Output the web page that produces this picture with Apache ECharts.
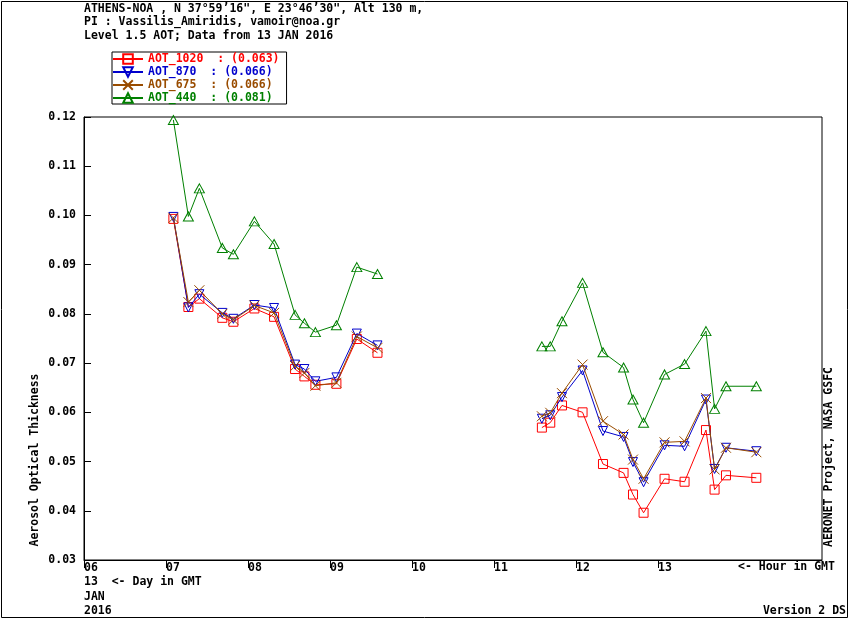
<!DOCTYPE html>
<html>
<head>
<meta charset="utf-8">
<script src="https://cdn.jsdelivr.net/npm/echarts@6/dist/echarts.min.js"></script>
<style>html,body{margin:0;padding:0;background:#fff}#c{width:850px;height:620px}</style>
</head>
<body>
<div id="c"></div>
<script>
// Measurement times (hour GMT) for the morning and afternoon segments
var hours1 = [7.090, 7.273, 7.407, 7.687, 7.822, 8.078, 8.318, 8.574, 8.688, 8.822, 9.078, 9.327, 9.579];
var hours2 = [11.584, 11.686, 11.829, 12.080, 12.329, 12.580, 12.695, 12.824, 13.080, 13.324, 13.585, 13.690, 13.829, 14.199];

var aot1020_a = [0.0993, 0.0814, 0.0831, 0.0792, 0.0784, 0.0811, 0.0794, 0.0688, 0.0673, 0.0656, 0.0658, 0.0749, 0.0721];
var aot1020_b = [0.0569, 0.0579, 0.0614, 0.0600, 0.0495, 0.0477, 0.0433, 0.0396, 0.0465, 0.0459, 0.0564, 0.0443, 0.0472, 0.0467];
var aot870_a = [0.0997, 0.0813, 0.0840, 0.0802, 0.0790, 0.0818, 0.0812, 0.0697, 0.0688, 0.0663, 0.0671, 0.0760, 0.0736];
var aot870_b = [0.0587, 0.0594, 0.0631, 0.0685, 0.0562, 0.0550, 0.0499, 0.0458, 0.0533, 0.0531, 0.0626, 0.0485, 0.0528, 0.0521];
var aot675_a = [0.0995, 0.0824, 0.0848, 0.0800, 0.0788, 0.0817, 0.0802, 0.0694, 0.0680, 0.0654, 0.0660, 0.0754, 0.0731];
var aot675_b = [0.0592, 0.0599, 0.0639, 0.0697, 0.0582, 0.0555, 0.0504, 0.0465, 0.0539, 0.0541, 0.0629, 0.0484, 0.0528, 0.0519];
var aot440_a = [0.1194, 0.0998, 0.1055, 0.0934, 0.0921, 0.0988, 0.0942, 0.0798, 0.0781, 0.0763, 0.0777, 0.0895, 0.0881];
var aot440_b = [0.0734, 0.0734, 0.0785, 0.0863, 0.0722, 0.0691, 0.0626, 0.0579, 0.0677, 0.0698, 0.0765, 0.0607, 0.0653, 0.0653];

var seriesNames = ['AOT_1020', 'AOT_870', 'AOT_675', 'AOT_440'];
var seriesMeans = ['0.063', '0.066', '0.066', '0.081'];
var seriesColors = ['#ff0000', '#0000cc', '#994c00', '#008000'];
var yTicks = ['0.03', '0.04', '0.05', '0.06', '0.07', '0.08', '0.09', '0.10', '0.11', '0.12'];
var hourTicks = [6, 7, 8, 9, 10, 11, 12, 13];
var hourLabels = ['06', '07', '08', '09', '10', '11', '12', '13'];

var FONT = '"DejaVu Sans Mono", "Liberation Mono", monospace';

function build(a, b) {
  var d = [];
  hours1.forEach(function (h, i) { d.push([h, a[i]]); });
  d.push([10.5, '-']);
  hours2.forEach(function (h, i) { d.push([h, b[i]]); });
  return d;
}

var symbols = [
  'path://M0,0L10,0L10,10L0,10Z',
  'path://M0,0L10,0L5,10Z',
  'path://M0,0L10,10M10,0L0,10',
  'path://M5,0L10,10L0,10Z'
];
var symbolSizes = [[9, 9], [9, 9], [10, 10], [10, 9]];
var datasets = [
  build(aot1020_a, aot1020_b),
  build(aot870_a, aot870_b),
  build(aot675_a, aot675_b),
  build(aot440_a, aot440_b)
];

var series = seriesNames.map(function (n, i) {
  return {
    name: n,
    type: 'line',
    data: datasets[i],
    connectNulls: false,
    symbol: symbols[i],
    symbolSize: symbolSizes[i],
    showAllSymbol: true,
    lineStyle: { color: seriesColors[i], width: 1 },
    itemStyle: { color: 'rgba(255,255,255,0)', borderColor: seriesColors[i], borderWidth: 1 },
    emphasis: { disabled: true },
    z: 2 + i
  };
});

var chart = echarts.init(document.getElementById('c'), null, { renderer: 'canvas' });
chart.setOption({
  animation: false,
  backgroundColor: '#fff',
  title: {
    text: 'ATHENS-NOA , N 37\u00b059\u201916", E 23\u00b046\u201930", Alt 130 m,\nPI : Vassilis_Amiridis, vamoir@noa.gr\nLevel 1.5 AOT; Data from 13 JAN 2016',
    left: 84, top: 2, padding: 0,
    textStyle: { fontFamily: FONT, fontSize: 11.5, fontWeight: 'bold', color: '#000', lineHeight: 13.5 }
  },
  legend: {
    orient: 'vertical',
    left: 112, top: 52,
    padding: [1, 7, 0, 0],
    itemWidth: 30, itemHeight: 12, itemGap: 1,
    borderColor: '#000', borderWidth: 1, borderRadius: 0,
    selectedMode: false,
    data: seriesNames.map(function (n, i) {
      return { name: n, textStyle: { color: seriesColors[i] } };
    }),
    formatter: function (name) {
      var i = seriesNames.indexOf(name);
      return name + '  : (' + seriesMeans[i] + ')';
    },
    textStyle: { fontFamily: FONT, fontSize: 11.5, fontWeight: 'bold', lineHeight: 12 }
  },
  grid: { left: 84, top: 117, right: 28, bottom: 60, show: true, borderColor: '#000', borderWidth: 1, backgroundColor: 'transparent' },
  xAxis: {
    type: 'value', min: 6, max: 15, interval: 1,
    axisLine: { show: true, lineStyle: { color: '#000', width: 1 } },
    axisTick: { show: true, inside: false, length: 8, customValues: hourTicks, lineStyle: { color: '#000' } },
    splitLine: { show: false },
    axisLabel: {
      margin: 2, align: 'left', color: '#000', customValues: hourTicks,
      fontFamily: FONT, fontSize: 11.5, fontWeight: 'bold',
      formatter: function (v) { return hourLabels[Math.round(v - 6)] || ''; }
    }
  },
  yAxis: {
    type: 'value', min: 0.03, max: 0.12, interval: 0.01,
    axisLine: { show: true, lineStyle: { color: '#000', width: 1 } },
    axisTick: { show: true, inside: true, length: 7, lineStyle: { color: '#000' } },
    splitLine: { show: false },
    axisLabel: {
      margin: 8, color: '#000',
      fontFamily: FONT, fontSize: 11.5, fontWeight: 'bold',
      formatter: function (v) { return yTicks[Math.round((v - 0.03) * 100)] || ''; }
    }
  },
  graphic: [
    { type: 'rect', shape: { x: 1.5, y: 1.5, width: 846, height: 616 }, style: { fill: 'none', stroke: '#000', lineWidth: 1 }, silent: true },
    { type: 'text', x: 35, y: 460, rotation: Math.PI / 2, style: { text: 'Aerosol Optical Thickness', font: 'bold 11.5px ' + FONT, fill: '#000', align: 'center', verticalAlign: 'middle' } },
    { type: 'text', x: 829, y: 457, rotation: Math.PI / 2, style: { text: 'AERONET Project, NASA GSFC', font: 'bold 11.5px ' + FONT, fill: '#000', align: 'center', verticalAlign: 'middle' } },
    { type: 'text', x: 738, y: 567, style: { text: '<- Hour in GMT', font: 'bold 11.5px ' + FONT, fill: '#000', align: 'left', verticalAlign: 'middle' } },
    { type: 'text', x: 84, y: 582, style: { text: '13  <- Day in GMT', font: 'bold 11.5px ' + FONT, fill: '#000', align: 'left', verticalAlign: 'middle' } },
    { type: 'text', x: 84, y: 597, style: { text: 'JAN', font: 'bold 11.5px ' + FONT, fill: '#000', align: 'left', verticalAlign: 'middle' } },
    { type: 'text', x: 84, y: 611, style: { text: '2016', font: 'bold 11.5px ' + FONT, fill: '#000', align: 'left', verticalAlign: 'middle' } },
    { type: 'text', x: 846, y: 611, style: { text: 'Version 2 DS', font: 'bold 11.5px ' + FONT, fill: '#000', align: 'right', verticalAlign: 'middle' } }
  ],
  series: series
});
</script>
</body>
</html>
